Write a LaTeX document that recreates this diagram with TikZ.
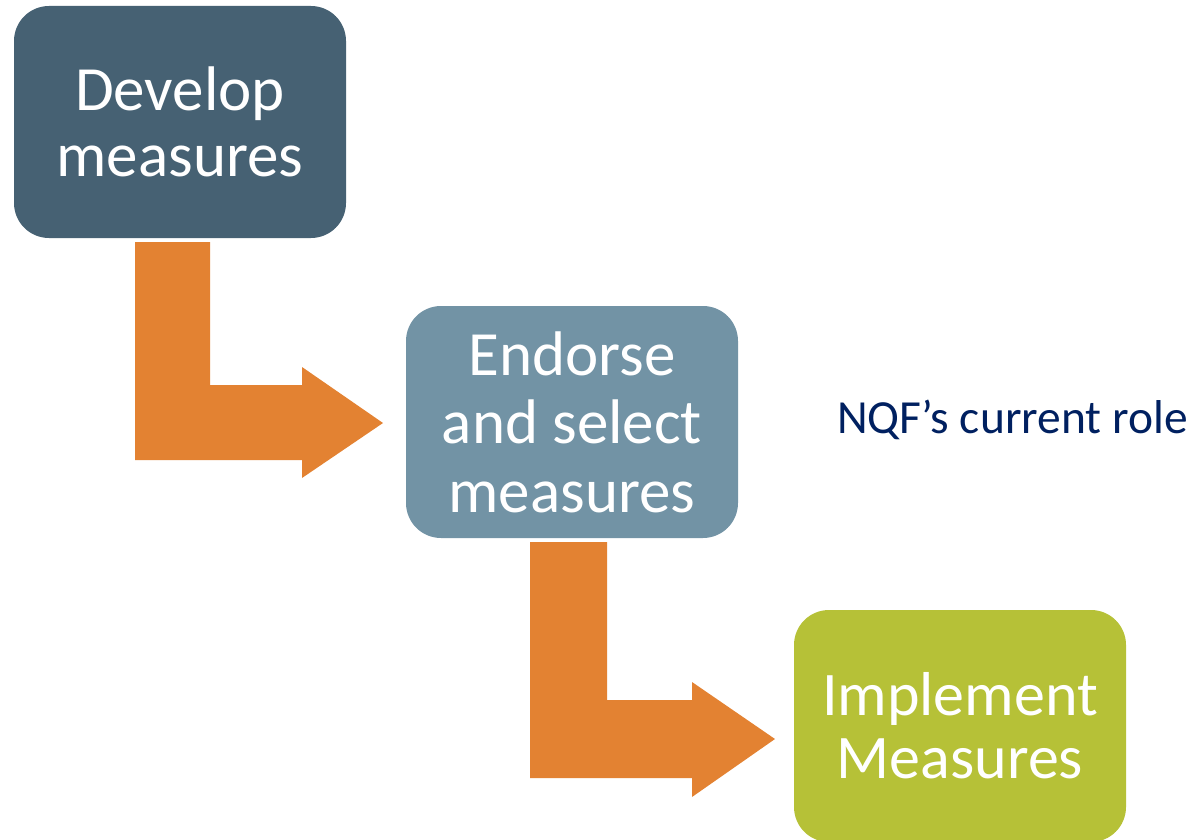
\documentclass[tikz,border=0pt]{standalone}
\usepackage{fontspec}
\setmainfont{Carlito}
\definecolor{boxdark}{HTML}{466173}
\definecolor{boxmid}{HTML}{7293A5}
\definecolor{boxgreen}{HTML}{B6C137}
\definecolor{arroworange}{HTML}{E38232}
\definecolor{navytext}{HTML}{002060}
\begin{document}
\begin{tikzpicture}[x=1pt,y=-1pt,
  stagebox/.style={rounded corners=35pt, minimum width=332pt, minimum height=232pt,
    inner sep=0pt, text=white, align=center, font=\fontsize{63}{66}\selectfont},
  bentarrow/.style={fill=arroworange, draw=none}]
\useasboundingbox (0,0) rectangle (1199,840);
\clip (0,0) rectangle (1199,840);
\node[stagebox, fill=boxdark] (dev) at (180,122) {Develop\\measures};
\node[stagebox, fill=boxmid, font=\fontsize{63}{68.5}\selectfont] (end) at (572,422) {Endorse\\and select\\measures};
\node[stagebox, fill=boxgreen, font=\fontsize{62}{63}\selectfont] (imp) at (960,726) {Implement\\Measures};
\node[anchor=base west, text=navytext, inner sep=0pt, font=\fontsize{47.5}{54}\selectfont] (role) at (837,433) {NQF’s current role};
% bent arrow from dev to end
\fill[bentarrow] (135,242) -- (210,242) -- (210,385) -- (302,385) -- (302,367)
  -- (383,423) -- (302,478) -- (302,460) -- (135,460) -- cycle;
% bent arrow from end to imp
\fill[bentarrow] (530,542) -- (607,542) -- (607,700) -- (692,700) -- (692,682)
  -- (775,739) -- (692,797) -- (692,778) -- (530,778) -- cycle;
\end{tikzpicture}
\end{document}
